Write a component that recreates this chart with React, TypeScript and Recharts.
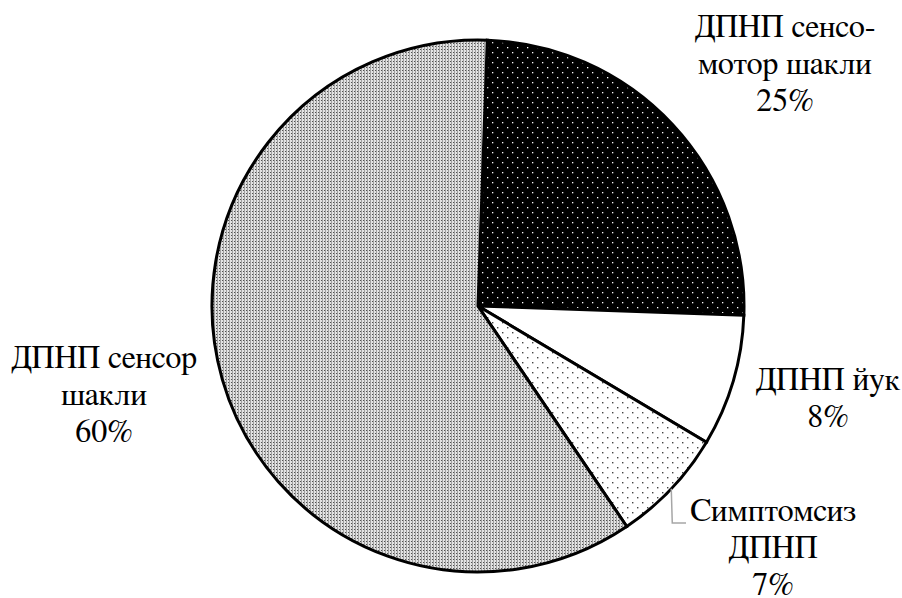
import React from "react";
import { PieChart, Pie, Cell } from "recharts";

// ---- data ----
const categories = [
  "ДПНП сенсо-\nмотор шакли",
  "ДПНП йук",
  "Симптомсиз\nДПНП",
  "ДПНП сенсор\nшакли",
];
const values = [25, 8, 7, 60];

// ---- layout / style ----
const W = 902;
const H = 598;
const CX = 478;
const CY = 306;
const R = 266;
const FONT = "FreeSerif, 'Noto Serif CJK SC', 'Liberation Serif', serif";
const FONT_SIZE = 32;
const LINE_H = 37;
const fills = ["url(#pDark)", "#ffffff", "url(#pLightDots)", "url(#pGray)"];
// text block anchor (center x, first baseline) relative to pie centre
const labelOffsets = [
  { dx: 307, dy: -269 },
  { dx: 350, dy: 84 },
  { dx: 295, dy: 215 },
  { dx: -374, dy: 62 },
];
const RAD = Math.PI / 180;

const data = categories.map((name, i) => ({ name, value: values[i] }));

const renderLabel = (props: any) => {
  const { index, midAngle } = props;
  const off = labelOffsets[index];
  const lines = [...categories[index].split("\n"), `${values[index]}%`];
  const x = CX + off.dx;
  const y0 = CY + off.dy;
  let leader: React.ReactNode = null;
  if (index === 2) {
    const sx = CX + R * Math.cos(-midAngle * RAD);
    const sy = CY + R * Math.sin(-midAngle * RAD);
    const ex = x - 87;
    const ey = y0 + 2;
    leader = (
      <polyline
        points={`${sx},${sy} ${sx + 1},${ey} ${ex},${ey}`}
        fill="none"
        stroke="#a6a6a6"
        strokeWidth={1.5}
      />
    );
  }
  return (
    <g key={`lbl-${index}`}>
      {leader}
      <text
        x={x}
        y={y0}
        textAnchor="middle"
        style={{ fontFamily: FONT, fontSize: FONT_SIZE }}
        fill="#000"
        stroke="none"
      >
        {lines.map((t, i) => (
          <tspan key={i} x={x} y={y0 + i * LINE_H}>
            {t}
          </tspan>
        ))}
      </text>
    </g>
  );
};

export default function App() {
  return (
    <div
      style={{
        position: "fixed",
        left: 0,
        top: 0,
        width: W,
        height: H,
        background: "#fff",
      }}
    >
      <svg width={0} height={0} style={{ position: "absolute" }}>
        <defs>
          <pattern id="pDark" patternUnits="userSpaceOnUse" width={10} height={10}>
            <rect x={0} y={0} width={10} height={10} fill="#000" />
            <rect x={2} y={2} width={1.3} height={1.3} fill="#fff" />
            <rect x={7} y={7} width={1.3} height={1.3} fill="#fff" />
          </pattern>
          <pattern id="pLightDots" patternUnits="userSpaceOnUse" width={10} height={10}>
            <rect x={0} y={0} width={10} height={10} fill="#fff" />
            <rect x={2} y={2} width={1.4} height={1.4} fill="#444" />
            <rect x={7} y={7} width={1.4} height={1.4} fill="#444" />
          </pattern>
          <pattern id="pGray" patternUnits="userSpaceOnUse" width={3} height={3}>
            <rect x={0} y={0} width={3} height={3} fill="#e2e2e2" />
            <rect x={1} y={0} width={1} height={3} fill="#a0a0a0" />
            <rect x={0} y={1} width={1} height={1} fill="#505050" />
          </pattern>
        </defs>
      </svg>
      <PieChart width={W} height={H} margin={{ top: 0, right: 0, bottom: 0, left: 0 }}>
        <Pie
          data={data}
          dataKey="value"
          nameKey="name"
          cx={CX}
          cy={CY}
          outerRadius={R}
          startAngle={88}
          endAngle={-272}
          stroke="#000"
          strokeWidth={3}
          label={renderLabel}
          labelLine={false}
          isAnimationActive={false}
        >
          {data.map((d, i) => (
            <Cell key={d.name} fill={fills[i]} />
          ))}
        </Pie>
      </PieChart>
    </div>
  );
}
